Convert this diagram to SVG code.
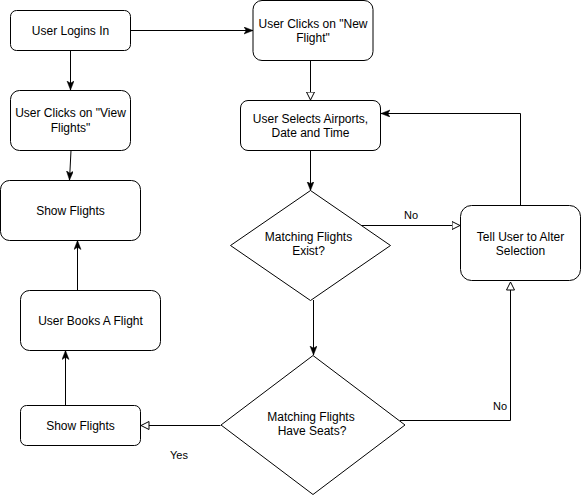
<svg xmlns="http://www.w3.org/2000/svg" width="581" height="496" viewBox="0 0 581 496">
<defs>
<style>
.n{fill:#fff;stroke:#000;stroke-width:1}
.t{font-family:"Liberation Sans",Arial,sans-serif;font-size:12px;fill:#000;text-anchor:middle}
.l{font-family:"Liberation Sans",Arial,sans-serif;font-size:11px;fill:#000;text-anchor:middle}
.e{fill:none;stroke:#000;stroke-width:1}
.f{marker-end:url(#classic)}
.h{marker-end:url(#open)}
</style>
<marker id="classic" markerUnits="userSpaceOnUse" markerWidth="10" markerHeight="8" refX="9" refY="3.5" orient="auto" viewBox="0 0 10 8">
<path d="M0,0 L9,3.5 L0,7 L2.25,3.5 Z" fill="#000" stroke="#000" stroke-width="0.5"/>
</marker>
<marker id="open" markerUnits="userSpaceOnUse" markerWidth="11" markerHeight="10" refX="0.5" refY="4.5" orient="auto" viewBox="0 0 11 10">
<path d="M0.5,0.5 L8.5,4.5 L0.5,8.5 Z" fill="#fff" stroke="#000" stroke-width="1"/>
</marker>
</defs>
<rect width="581" height="496" fill="#fff"/>
<g id="connectors">
<path class="e f" d="M130.5,30.5 H253"/>
<path class="e f" d="M70.5,50.5 V90"/>
<path class="e f" d="M71,150.5 L69.5,180"/>
<path class="e h" d="M310.5,60.5 V92"/>
<path class="e f" d="M310.5,150.5 V190.5"/>
<path class="e h" d="M361,225.5 H452"/>
<path class="e f" d="M520.5,205.5 V113.5 H381"/>
<path class="e f" d="M313.5,300 V355"/>
<path class="e h" d="M220.5,425.5 H149"/>
<path class="e h" d="M400,420.5 H510.5 V290"/>
<path class="e f" d="M65.5,405.5 V350.5"/>
<path class="e f" d="M77.5,290.5 V240.5"/>
<text class="l" x="411" y="219">No</text>
<text class="l" x="500" y="410">No</text>
<text class="l" x="179" y="459">Yes</text>
</g>
<g id="userLogins">
<rect class="n" x="10.5" y="10.5" width="120" height="40" rx="6" ry="6"/>
<text class="t" x="70.5" y="34.5">User Logins In</text>
</g>
<g id="viewFlights">
<rect class="n" x="10.5" y="90.5" width="120" height="60" rx="9" ry="9"/>
<text class="t" x="70.5" y="117">User Clicks on "View</text>
<text class="t" x="70.5" y="131.5">Flights"</text>
</g>
<g id="newFlight">
<rect class="n" x="253" y="0.5" width="120" height="60" rx="9" ry="9"/>
<text class="t" x="313" y="28">User Clicks on "New</text>
<text class="t" x="313" y="42">Flight"</text>
</g>
<g id="selects">
<rect class="n" x="240.5" y="100.5" width="140" height="50" rx="7.5" ry="7.5"/>
<text class="t" x="310.5" y="123">User Selects Airports,</text>
<text class="t" x="310.5" y="137">Date and Time</text>
</g>
<g id="exist">
<polygon class="n" points="310.5,190.5 390.5,245.5 310.5,300.5 230.5,245.5"/>
<text class="t" x="308.5" y="241">Matching Flights</text>
<text class="t" x="308.5" y="255">Exist?</text>
</g>
<g id="tellUser">
<rect class="n" x="460.5" y="205.5" width="120" height="75" rx="11" ry="11"/>
<text class="t" x="520.5" y="241">Tell User to Alter</text>
<text class="t" x="520.5" y="255">Selection</text>
</g>
<g id="showFlightsTop">
<rect class="n" x="0.5" y="180.5" width="140" height="60" rx="9" ry="9"/>
<text class="t" x="70.5" y="215">Show Flights</text>
</g>
<g id="booksFlight">
<rect class="n" x="20.5" y="290.5" width="140" height="60" rx="9" ry="9"/>
<text class="t" x="90.5" y="325">User Books A Flight</text>
</g>
<g id="haveSeats">
<polygon class="n" points="313,355.5 405,425 313,494.5 221,425"/>
<text class="t" x="311" y="421">Matching Flights</text>
<text class="t" x="312" y="435">Have Seats?</text>
</g>
<g id="showFlightsBottom">
<rect class="n" x="20.5" y="405.5" width="120" height="40" rx="6" ry="6"/>
<text class="t" x="80.5" y="429.5">Show Flights</text>
</g>
</svg>
